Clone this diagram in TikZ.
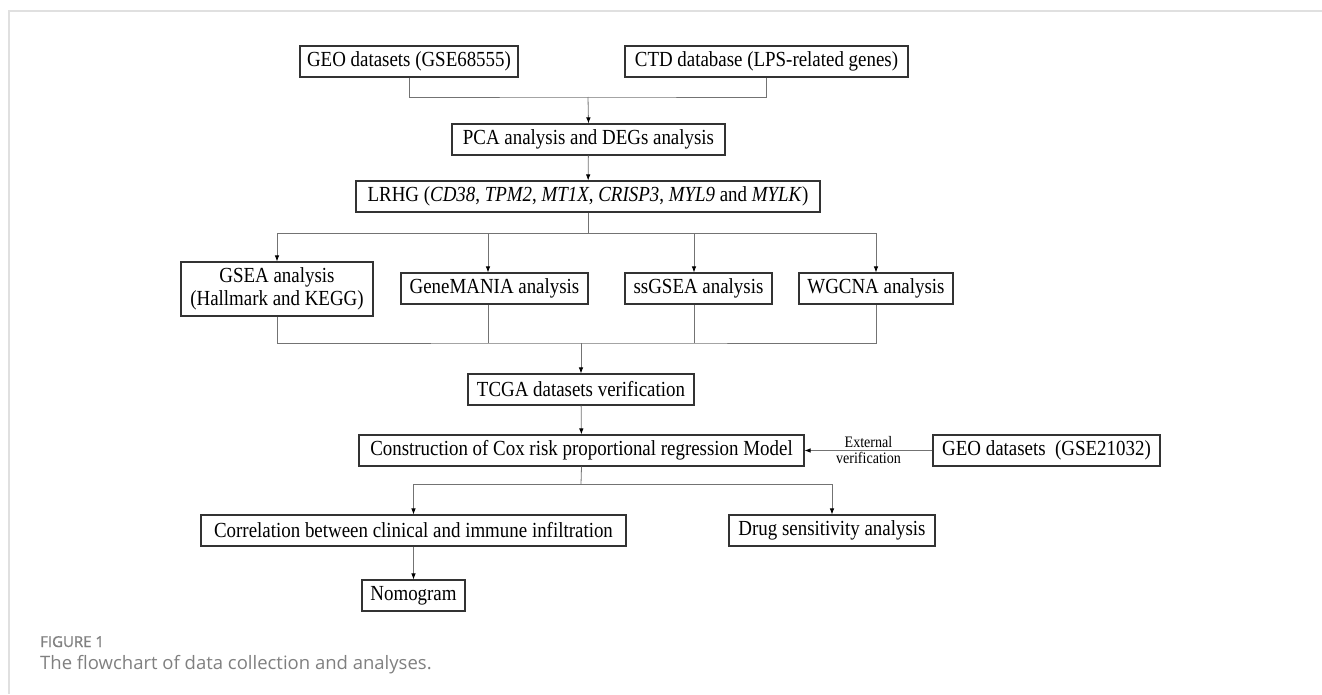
\documentclass[tikz,border=0pt]{standalone}
\usepackage{fontspec}
\setmainfont{Liberation Serif}[FakeStretch=0.88]
\newfontfamily\capfont{Open Sans}
\newfontfamily\capbold{Open Sans}[FakeBold=1.2]
\usetikzlibrary{arrows.meta}

\begin{document}
\begin{tikzpicture}[x=1pt,y=-1pt]
      \tikzstyle{every node}+=[inner sep=0pt]
      \tikzstyle{box}=[draw=black!80, line width=1.1pt, minimum height=31pt, font=\fontsize{21.5}{23}\selectfont]
      \tikzstyle{link}=[draw=black!55, line width=0.8pt]
      \tikzstyle{arr}=[link, -{Latex[length=6pt,width=4.5pt,black]}]
      \tikzstyle{note}=[font=\fontsize{16}{18}\selectfont]
      \tikzstyle{capt}=[anchor=base west, text=black!50]
      \useasboundingbox (0,0) rectangle (1322,694);
      \draw [black!12, line width=2pt] (9,694) -- (9,11) -- (1322,11);
      % data sources
      \node [box, minimum width=218pt] (geoa) at (409,61.5) {GEO datasets (GSE68555)};
      \node [box, minimum width=283pt] (ctd) at (766.5,61.5) {CTD database (LPS-related genes)};
      \node [box, minimum width=273pt] (pca) at (588.5,139.5) {PCA analysis and DEGs analysis};
      \node [box, minimum width=464pt] (lrhg) at (588,196.5) {LRHG (\textit{CD38}, \textit{TPM2}, \textit{MT1X}, \textit{CRISP3}, \textit{MYL9} and \textit{MYLK})};
      % analyses
      \node [box, minimum width=192pt, minimum height=54pt, align=center] (gsea) at (277,289) {GSEA analysis\\(Hallmark and KEGG)};
      \node [box, minimum width=187pt] (gmania) at (494.5,288.5) {GeneMANIA analysis};
      \node [box, minimum width=147pt] (ssgsea) at (698.5,288.5) {ssGSEA analysis};
      \node [box, minimum width=154pt] (wgcna) at (876,288.5) {WGCNA analysis};
      % model
      \node [box, minimum width=226pt] (tcga) at (581,389.5) {TCGA datasets verification};
      \node [box, minimum width=445pt] (cox) at (581.5,450.5) {Construction of Cox risk proportional regression Model};
      \node [box, minimum width=227pt] (geob) at (1046.5,450.5) {GEO datasets\ \ (GSE21032)};
      \node [box, minimum width=425pt] (corr) at (413.5,530.5) {Correlation between clinical and immune infiltration};
      \node [box, minimum width=206pt] (drug) at (832,530.5) {Drug sensitivity analysis};
      \node [box, minimum width=103pt] (nomo) at (413.5,595.5) {Nomogram};
      % connectors
      \coordinate (joina) at (588,97);
      \draw [link] (geoa.south) |- (joina) -| (ctd.south);
      \draw [arr] (joina) -- (pca.north);
      \draw [arr] (pca) -- (lrhg);
      \coordinate (splita) at (588,233);
      \draw [link] (lrhg.south) -- (splita);
      \draw [arr] (splita) -| (gsea.north);
      \draw [arr] (splita) -| ([xshift=-6.5pt]gmania.north);
      \draw [arr] (splita) -| ([xshift=-4.5pt]ssgsea.north);
      \draw [arr] (splita) -| (wgcna.north);
      \coordinate (joinb) at (581,343);
      \draw [link] (gsea.south) |- (joinb) -| (wgcna.south);
      \draw [link] ([xshift=-6.5pt]gmania.south) -- ([xshift=-6.5pt]gmania.south |- joinb);
      \draw [link] ([xshift=-4.5pt]ssgsea.south) -- ([xshift=-4.5pt]ssgsea.south |- joinb);
      \draw [arr] (joinb) -- (tcga.north);
      \draw [arr] (tcga) -- (cox);
      \draw [arr] (geob) -- (cox) node [note, midway, above=2pt] (ext) {External} node [note, midway, below=1pt] (ver) {verification};
      \coordinate (splitb) at (581,484);
      \draw [link] (cox.south) -- (splitb);
      \draw [arr] (splitb) -| (corr.north);
      \draw [arr] (splitb) -| (drug.north);
      \draw [arr] (corr) -- (nomo);
      % caption
      \node [capt, font=\capbold\fontsize{15}{17}\selectfont] (figno) at (40,647) {FIGURE 1};
      \node [capt, font=\capfont\fontsize{18.5}{20}\selectfont] (figcap) at (40,669) {The flowchart of data collection and analyses.};
\end{tikzpicture}
\end{document}
